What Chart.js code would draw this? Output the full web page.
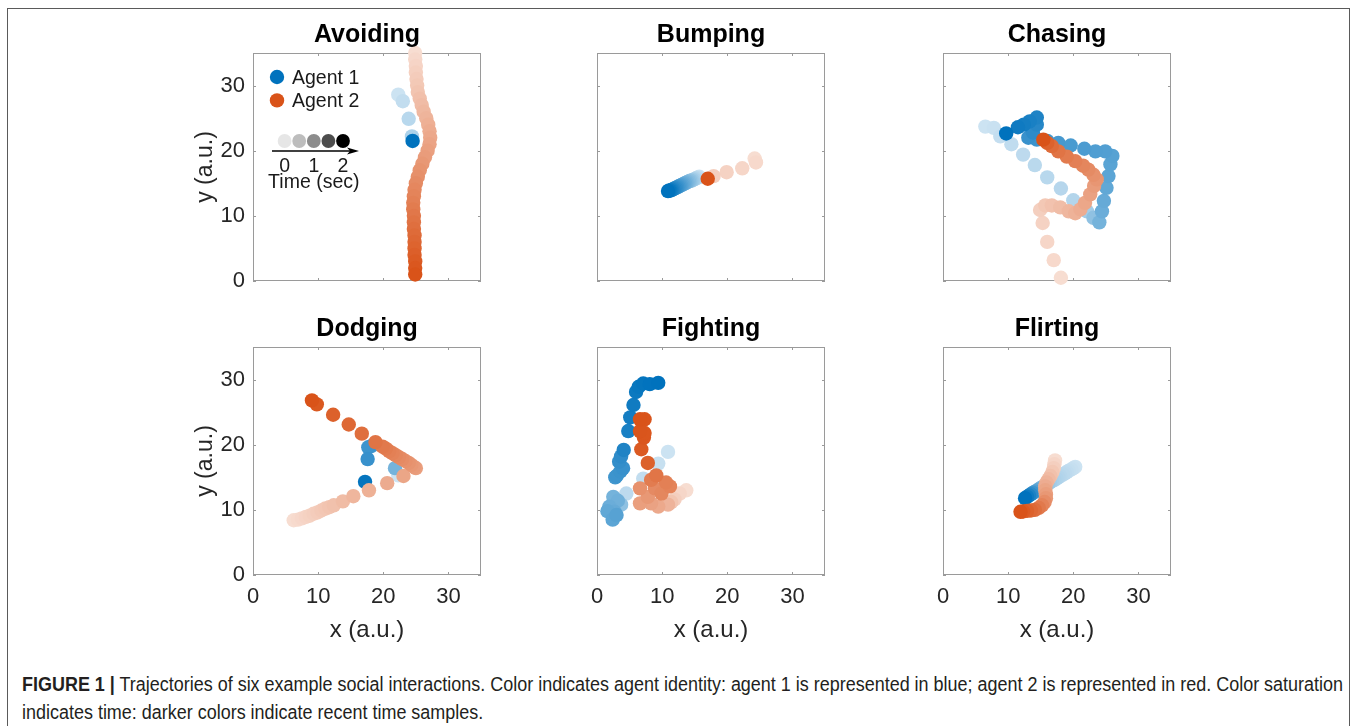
<!DOCTYPE html>
<html>
<head>
<meta charset="utf-8">
<script src="https://cdn.jsdelivr.net/npm/chart.js@4.4.1/dist/chart.umd.min.js"></script>
<style>
  html, body { margin: 0; padding: 0; background: #fff; }
  body { width: 1358px; height: 726px; position: relative; overflow: hidden; }
  .frame { position: absolute; left: 7px; top: 8px; width: 1343px; height: 740px; border: 1.5px solid #5a5a5a; box-sizing: border-box; }
  canvas { position: absolute; }
  .caption { position: absolute; left: 22px; top: 670px; font-family: "Liberation Sans", Arial, sans-serif; font-size: 20px; line-height: 28px; color: #231f20; white-space: nowrap; transform-origin: left top; }
</style>
</head>
<body>
<div class="frame"></div>
<canvas id="c0" width="338" height="358"></canvas>
<canvas id="c1" width="338" height="358"></canvas>
<canvas id="c2" width="338" height="358"></canvas>
<canvas id="c3" width="338" height="358"></canvas>
<canvas id="c4" width="338" height="358"></canvas>
<canvas id="c5" width="338" height="358"></canvas>
<div class="caption" id="caption"><b>FIGURE 1 |</b> Trajectories of six example social interactions. Color indicates agent identity: agent 1 is represented in blue; agent 2 is represented in red. Color saturation<br>indicates time: darker colors indicate recent time samples.</div>
<script>
const panelTitles = ["Avoiding", "Bumping", "Chasing", "Dodging", "Fighting", "Flirting"];
const axisTicks = [0, 10, 20, 30];
const axisMin = 0;
const axisMax = 35;
const legendLabels = ["Agent 1", "Agent 2"];
const timeTickLabels = ["0", "1", "2"];
const timeLegendShades = ["#e6e6e6", "#bdbdbd", "#8c8c8c", "#4d4d4d", "#000000"];

// every point: [x, y, time (sec)]
const avoidingAgent1 = [[22.3, 28.6, 0.0], [23.0, 27.6, 0.1], [23.9, 24.9, 0.2], [24.4, 22.2, 0.3], [24.5, 21.5, 2.0]];
const avoidingAgent2 = [
  [24.9, 35.0, 0.00], [24.9, 34.0, 0.06], [25.0, 33.0, 0.12], [25.0, 32.0, 0.18], [25.1, 31.0, 0.24],
  [25.2, 30.0, 0.29], [25.3, 29.0, 0.35], [25.6, 28.0, 0.41], [25.9, 27.0, 0.47], [26.2, 26.0, 0.53],
  [26.6, 25.0, 0.59], [26.9, 24.0, 0.65], [27.1, 23.0, 0.71], [27.2, 22.0, 0.76], [27.1, 21.0, 0.82],
  [26.8, 20.0, 0.88], [26.4, 19.0, 0.94], [26.0, 18.0, 1.00], [25.6, 17.0, 1.06], [25.3, 16.0, 1.12],
  [25.0, 15.0, 1.18], [24.8, 14.0, 1.24], [24.7, 13.0, 1.29], [24.6, 12.0, 1.35], [24.6, 11.0, 1.41],
  [24.7, 10.0, 1.47], [24.7, 9.0, 1.53], [24.7, 8.0, 1.59], [24.8, 7.0, 1.65], [24.8, 6.0, 1.71],
  [24.8, 5.0, 1.76], [24.8, 4.0, 1.82], [24.9, 3.0, 1.88], [24.9, 2.0, 1.94], [24.9, 1.0, 2.00]
];

const bumpingAgent1 = [
  [15.7, 16.0, 0.00], [15.5, 15.9, 0.08], [15.3, 15.8, 0.17], [15.1, 15.7, 0.25], [14.9, 15.6, 0.33],
  [14.7, 15.5, 0.42], [14.5, 15.4, 0.50], [14.3, 15.4, 0.58], [14.1, 15.3, 0.67], [13.9, 15.2, 0.75],
  [13.7, 15.1, 0.83], [13.5, 15.0, 0.92], [13.3, 14.9, 1.00], [13.1, 14.8, 1.08], [12.9, 14.7, 1.17],
  [12.7, 14.6, 1.25], [12.5, 14.5, 1.33], [12.3, 14.4, 1.42], [12.1, 14.3, 1.50], [11.9, 14.2, 1.58],
  [11.7, 14.1, 1.67], [11.5, 14.0, 1.75], [11.3, 13.9, 1.83], [11.1, 13.9, 1.92], [10.9, 13.8, 2.00]
];
const bumpingAgent2 = [[24.2, 18.8, 0.0], [24.4, 18.2, 0.05], [22.3, 17.3, 0.1], [19.9, 16.7, 0.15], [17.9, 16.1, 0.2], [17.0, 15.7, 2.0]];

const chasingAgent1 = [
  [6.5, 23.7, 0.00], [7.8, 23.5, 0.03], [8.8, 22.2, 0.08], [10.5, 21.0, 0.12], [12.3, 19.4, 0.15],
  [14.1, 17.8, 0.18], [16.0, 15.9, 0.20], [18.1, 14.2, 0.22], [20.0, 12.4, 0.25], [22.1, 10.7, 0.40],
  [23.1, 9.7, 0.60], [24.0, 9.0, 0.85], [24.4, 10.7, 0.95], [24.7, 12.3, 1.00], [25.1, 14.3, 1.05],
  [25.4, 16.1, 1.10], [25.7, 17.9, 1.12], [26.0, 19.2, 1.15], [24.9, 19.9, 1.20], [23.4, 19.9, 1.22],
  [21.7, 20.3, 1.25], [19.6, 20.8, 1.28], [17.7, 21.2, 1.30], [16.0, 21.5, 1.35], [14.4, 21.7, 1.40],
  [13.1, 22.0, 1.45], [13.8, 22.8, 1.55], [14.4, 24.0, 1.62], [14.4, 25.1, 1.70], [13.3, 24.5, 1.75],
  [12.4, 24.0, 1.80], [11.5, 23.6, 1.85], [9.7, 22.65, 2.00]
];
const chasingAgent2 = [
  [18.1, 0.5, 0.00], [17.0, 3.2, 0.05], [16.0, 6.0, 0.10], [15.3, 8.9, 0.15], [14.9, 10.9, 0.20],
  [15.7, 11.6, 0.30], [16.7, 11.6, 0.38], [18.0, 11.3, 0.46], [19.3, 10.7, 0.54], [20.3, 10.4, 0.62],
  [21.1, 11.0, 0.70], [21.8, 12.0, 0.78], [22.6, 13.3, 0.86], [23.2, 14.6, 0.94], [23.6, 15.6, 1.02],
  [23.1, 16.3, 1.10], [22.3, 17.1, 1.18], [21.5, 17.7, 1.26], [20.3, 18.4, 1.34], [19.0, 19.1, 1.42],
  [17.7, 19.9, 1.52], [16.7, 20.7, 1.64], [16.0, 21.2, 1.78], [15.4, 21.7, 2.00]
];

const dodgingAgent1 = [[22.3, 15.3, 0.0], [21.8, 16.4, 0.85], [18.2, 19.8, 1.35], [17.7, 19.6, 1.4], [17.6, 17.8, 1.45], [17.2, 14.3, 1.95]];
const dodgingAgent2 = [
  [6.25, 8.4, 0.00], [6.9, 8.5, 0.04], [7.5, 8.7, 0.08], [8.1, 8.9, 0.12], [8.7, 9.1, 0.16],
  [9.3, 9.4, 0.20], [9.9, 9.6, 0.24], [10.5, 9.9, 0.28], [11.1, 10.2, 0.32], [11.7, 10.4, 0.36],
  [12.4, 10.7, 0.40], [13.8, 11.3, 0.48], [15.4, 12.1, 0.56], [17.8, 13.0, 0.64], [20.6, 14.1, 0.72],
  [23.1, 15.2, 0.80], [25.0, 16.4, 0.90], [24.7, 16.6, 0.95], [24.3, 16.9, 1.00], [23.9, 17.2, 1.05],
  [23.4, 17.5, 1.10], [22.9, 17.8, 1.15], [22.4, 18.1, 1.20], [21.9, 18.4, 1.25], [21.4, 18.7, 1.30],
  [20.9, 19.0, 1.35], [20.4, 19.4, 1.40], [19.9, 19.7, 1.45], [18.8, 20.4, 1.52], [16.7, 21.7, 1.60],
  [14.7, 23.1, 1.70], [12.3, 24.6, 1.80], [9.8, 26.2, 1.92], [9.05, 26.8, 2.00]
];

const fightingAgent1 = [
  [10.9, 18.9, 0.00], [9.4, 17.1, 0.05], [7.1, 14.8, 0.10], [4.5, 12.5, 0.15], [3.7, 10.8, 0.60],
  [2.5, 12.0, 0.85], [3.2, 11.4, 0.90], [1.9, 10.5, 0.95], [2.7, 9.7, 1.00], [1.6, 9.8, 1.05],
  [2.4, 8.5, 1.10], [3.0, 9.2, 1.15], [2.8, 15.0, 1.35], [3.0, 15.2, 1.40], [3.6, 15.9, 1.42],
  [4.0, 16.4, 1.45], [3.4, 17.4, 1.50], [3.7, 18.2, 1.55], [4.1, 19.2, 1.70], [4.8, 22.1, 1.75],
  [5.1, 24.2, 1.80], [5.6, 26.1, 1.84], [6.0, 28.1, 1.88], [6.4, 28.9, 1.92], [7.1, 29.4, 1.95],
  [8.1, 29.3, 1.98], [9.4, 29.5, 2.00]
];
const fightingAgent2 = [
  [13.7, 13.0, 0.00], [12.7, 12.5, 0.10], [11.9, 11.6, 0.20], [11.4, 11.2, 0.35], [10.9, 10.8, 0.60],
  [9.4, 10.5, 0.75], [8.3, 11.0, 0.85], [6.6, 11.0, 0.90], [7.8, 12.0, 1.00], [6.6, 13.3, 1.10],
  [8.9, 13.3, 1.20], [9.9, 12.5, 1.25], [11.2, 13.6, 1.30], [10.6, 14.2, 1.35], [8.3, 14.6, 1.40],
  [9.1, 15.3, 1.50], [7.8, 17.2, 1.80], [6.8, 19.3, 1.90], [7.2, 21.1, 1.95], [7.3, 21.8, 1.96],
  [6.6, 22.1, 1.97], [7.3, 23.9, 1.98], [6.6, 23.9, 2.00]
];

const flirtingAgent1 = [
  [20.3, 16.6, 0.00], [20.0, 16.4, 0.03], [19.7, 16.2, 0.06], [19.3, 16.0, 0.09], [19.0, 15.8, 0.12],
  [18.7, 15.6, 0.15], [18.4, 15.4, 0.18], [18.0, 15.2, 0.21], [17.7, 15.0, 0.24], [17.4, 14.8, 0.27],
  [17.1, 14.6, 0.30], [16.7, 14.4, 0.35], [16.4, 14.2, 0.40], [16.1, 14.0, 0.48], [15.8, 13.8, 0.56],
  [15.4, 13.6, 0.66], [15.1, 13.4, 0.78], [14.8, 13.2, 0.90], [14.5, 13.0, 1.05], [14.1, 12.8, 1.20],
  [13.8, 12.6, 1.38], [13.5, 12.4, 1.55], [13.2, 12.2, 1.72], [12.9, 12.0, 1.86], [12.6, 11.8, 2.00]
];
const flirtingAgent2 = [
  [17.2, 17.6, 0.00], [17.1, 17.0, 0.10], [17.0, 16.4, 0.20], [16.8, 15.8, 0.30], [16.5, 15.2, 0.40],
  [16.2, 14.7, 0.50], [15.9, 14.2, 0.60], [15.7, 13.6, 0.70], [15.7, 13.0, 0.80], [15.8, 12.4, 0.90],
  [15.8, 11.8, 1.00], [15.6, 11.2, 1.15], [15.2, 10.7, 1.30], [14.7, 10.3, 1.45], [14.1, 10.0, 1.60],
  [13.5, 9.9, 1.70], [12.9, 9.85, 1.80], [12.3, 9.75, 1.90], [11.9, 9.7, 2.00]
];

const panelAgents = [
  [avoidingAgent1, avoidingAgent2],
  [bumpingAgent1, bumpingAgent2],
  [chasingAgent1, chasingAgent2],
  [dodgingAgent1, dodgingAgent2],
  [fightingAgent1, fightingAgent2],
  [flirtingAgent1, flirtingAgent2]
];

const FONT = '"Liberation Sans", Arial, Helvetica, sans-serif';
const agentColors = [[0, 114, 189], [217, 83, 25]];
const plotLeft = [253, 597, 943];
const plotTop = [53, 347];
const PAD_L = 90, PAD_T = 50;
const MARKER_R = 7.2;

// lighter = earlier, full colour = last sample (t = 2 s)
function shade(rgb, t) {
  const a = 0.2 + 0.8 * t / 2;
  const c = rgb.map(v => Math.round(255 - a * (255 - v)));
  return `rgb(${c[0]},${c[1]},${c[2]})`;
}

function dot(ctx, x, y, r, color) {
  ctx.beginPath();
  ctx.arc(x, y, r, 0, Math.PI * 2);
  ctx.fillStyle = color;
  ctx.fill();
}

const panelFrame = {
  id: "panelFrame",
  beforeDatasetsDraw(chart) {
    const { ctx, chartArea: a, scales } = chart;
    ctx.save();
    ctx.strokeStyle = "#9a9a9a";
    ctx.lineWidth = 1;
    ctx.strokeRect(a.left + 0.5, a.top + 0.5, a.right - a.left - 1, a.bottom - a.top - 1);
    ctx.beginPath();
    axisTicks.forEach(v => {
      const px = Math.round(scales.x.getPixelForValue(v)) + 0.5;
      const py = Math.round(scales.y.getPixelForValue(v)) + 0.5;
      ctx.moveTo(px, a.bottom); ctx.lineTo(px, a.bottom - 3);
      ctx.moveTo(px, a.top); ctx.lineTo(px, a.top + 3);
      ctx.moveTo(a.left, py); ctx.lineTo(a.left + 3, py);
      ctx.moveTo(a.right, py); ctx.lineTo(a.right - 3, py);
    });
    ctx.stroke();
    ctx.restore();
  },
  afterDraw(chart, args, opts) {
    const { ctx, chartArea: a } = chart;
    ctx.save();
    ctx.fillStyle = "#000";
    ctx.font = "bold 25px " + FONT;
    ctx.textAlign = "center";
    ctx.textBaseline = "alphabetic";
    ctx.fillText(opts.title, (a.left + a.right) / 2, a.top - 11.5);

    if (opts.legend) {
      const L = a.left, T = a.top;
      ctx.font = "19.5px " + FONT;
      ctx.textAlign = "left";
      legendLabels.forEach((lab, k) => {
        dot(ctx, L + 24, T + 24 + 23.4 * k, MARKER_R, shade(agentColors[k], 2));
        ctx.fillStyle = "#1a1a1a";
        ctx.fillText(lab, L + 39, T + 31 + 23.4 * k);
      });
      timeLegendShades.forEach((c, k) => dot(ctx, L + 31.6 + 14.6 * k, T + 88, 6.9, c));
      // time arrow
      ctx.strokeStyle = "#000";
      ctx.lineWidth = 1.4;
      ctx.beginPath();
      ctx.moveTo(L + 19, T + 98);
      ctx.lineTo(L + 100, T + 98);
      ctx.stroke();
      ctx.beginPath();
      ctx.moveTo(L + 106, T + 98);
      ctx.lineTo(L + 94, T + 94.5);
      ctx.lineTo(L + 97, T + 98);
      ctx.lineTo(L + 94, T + 101.5);
      ctx.closePath();
      ctx.fillStyle = "#000";
      ctx.fill();
      ctx.textAlign = "center";
      ctx.fillStyle = "#1a1a1a";
      timeTickLabels.forEach((lab, k) => ctx.fillText(lab, L + 31.6 + 29.2 * k, T + 118.7));
      ctx.fillText("Time (sec)", L + 60.8, T + 135);
    }
    ctx.restore();
  }
};

function makePanel(i) {
  const row = Math.floor(i / 3), col = i % 3;
  const canvas = document.getElementById("c" + i);
  canvas.style.left = (plotLeft[col] - PAD_L) + "px";
  canvas.style.top = (plotTop[row] - PAD_T) + "px";
  const [agent1, agent2] = panelAgents[i];

  const series = (pts, k) => ({
    label: legendLabels[k],
    data: pts.map(p => ({ x: p[0], y: p[1] })),
    pointBackgroundColor: pts.map(p => shade(agentColors[k], p[2])),
    pointBorderWidth: 0,
    pointRadius: MARKER_R,
    pointHoverRadius: MARKER_R,
    showLine: false,
    clip: false
  });

  const setTicks = s => { s.ticks = axisTicks.map(v => ({ value: v })); };

  new Chart(canvas, {
    type: "scatter",
    // agent 2 listed first so it is drawn on top
    data: { datasets: [series(agent2, 1), series(agent1, 0)] },
    options: {
      responsive: false,
      animation: false,
      events: [],
      layout: { padding: { left: 0, right: 20, top: PAD_T, bottom: 0 } },
      plugins: {
        legend: { display: false },
        tooltip: { enabled: false },
        panelFrame: { title: panelTitles[i], legend: i === 0 }
      },
      scales: {
        x: {
          type: "linear", min: axisMin, max: axisMax,
          afterBuildTicks: setTicks,
          afterFit: s => { s.height = 80; },
          grid: { display: false, drawTicks: false },
          border: { display: false },
          ticks: { display: row === 1, padding: 9, color: "#262626", font: { family: FONT, size: 22 } },
          title: { display: row === 1, text: "x (a.u.)", color: "#262626", font: { family: FONT, size: 24 }, padding: { top: 0, bottom: 10.6 } }
        },
        y: {
          type: "linear", min: axisMin, max: axisMax,
          afterBuildTicks: setTicks,
          afterFit: s => { s.width = PAD_L; },
          grid: { display: false, drawTicks: false },
          border: { display: false },
          ticks: { display: col === 0, padding: 8, color: "#262626", font: { family: FONT, size: 22 } },
          title: { display: col === 0, text: "y (a.u.)", color: "#262626", font: { family: FONT, size: 23 }, padding: { top: 29, bottom: 0 } }
        }
      }
    },
    plugins: [panelFrame]
  });
}

for (let i = 0; i < 6; i++) makePanel(i);

// squeeze the caption to the width of the printed (condensed) figure caption
const caption = document.getElementById("caption");
caption.style.transform = `scaleX(${1321 / caption.getBoundingClientRect().width})`;
</script>
</body>
</html>
